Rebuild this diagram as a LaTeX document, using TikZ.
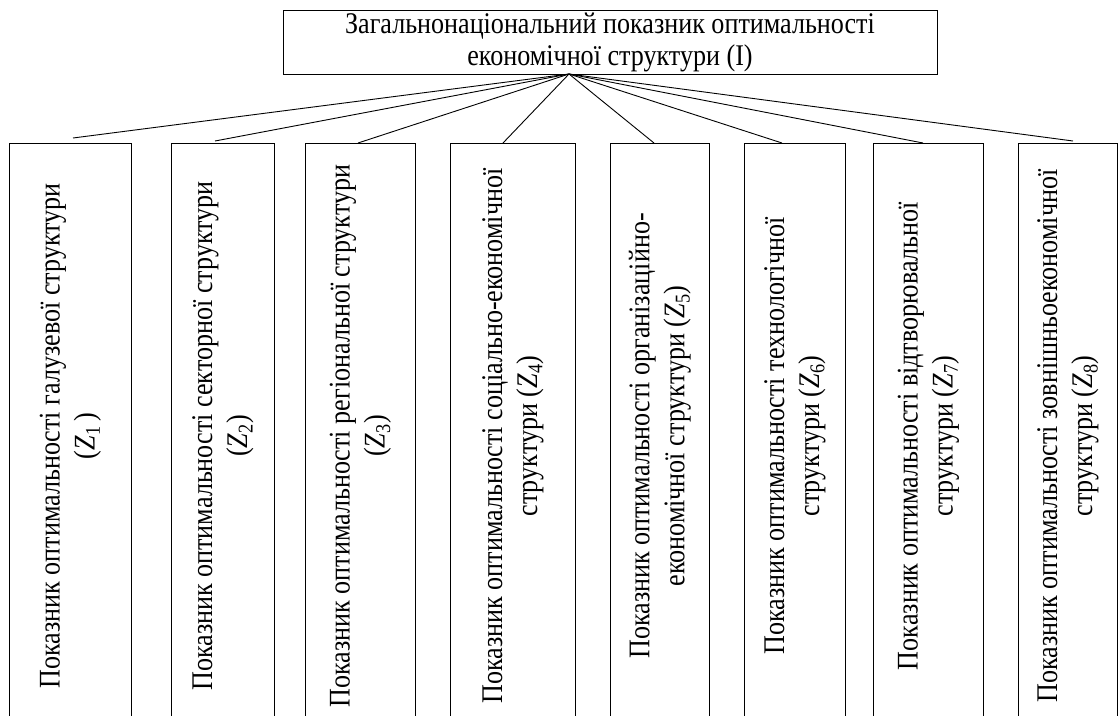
\documentclass[tikz,border=0pt]{standalone}
\usepackage{fontspec}
\setmainfont[FakeStretch=0.87]{Liberation Serif}
\newcommand{\zsub}[1]{(\textit{Z}\textsubscript{#1})}
\begin{document}
\begin{tikzpicture}[x=1pt,y=-1pt,
  box/.style={draw, line width=0.9pt, inner sep=0pt, anchor=north west},
  lbl/.style={rotate=90, align=center, font=\fontsize{30}{35}\selectfont, inner sep=0pt},
  toplbl/.style={align=center, font=\fontsize{30}{32}\selectfont, inner sep=0pt},
  conn/.style={line width=0.9pt}]
\useasboundingbox[fill=white] (0,0) rectangle (1119,715);
% top box
\node[box, minimum width=654pt, minimum height=64pt] (top) at (283,10) {};
\node[toplbl] (toptxt) at (610,42) {Загальнонаціональний показник оптимальності\\економічної структури (I)};
\coordinate (apex) at (569,74);
% child boxes
\node[box, minimum width=122pt, minimum height=585pt] (b1) at (9,143) {};
\node[box, minimum width=103pt, minimum height=585pt] (b2) at (171,143) {};
\node[box, minimum width=110pt, minimum height=585pt] (b3) at (305,143) {};
\node[box, minimum width=125pt, minimum height=585pt] (b4) at (450,143) {};
\node[box, minimum width=99pt, minimum height=585pt] (b5) at (610,143) {};
\node[box, minimum width=101pt, minimum height=585pt] (b6) at (744,143) {};
\node[box, minimum width=110pt, minimum height=585pt] (b7) at (873,143) {};
\node[box, minimum width=99pt, minimum height=585pt] (b8) at (1018,143) {};
% labels
\node[lbl] (t1) at (b1.center) {Показник оптимальності галузевої структури\\(\textit{Z}\textsubscript{1}\,)};
\node[lbl] (t2) at (b2.center) {Показник оптимальності секторної структури\\\zsub{2}};
\node[lbl] (t3) at (b3.center) {Показник оптимальності регіональної структури\\\zsub{3}};
\node[lbl] (t4) at (b4.center) {Показник оптимальності соціально-економічної\\структури \zsub{4}};
\node[lbl] (t5) at (b5.center) {Показник оптимальності організаційно-\\економічної структури \zsub{5}};
\node[lbl] (t6) at (b6.center) {Показник оптимальності технологічної\\структури \zsub{6}};
\node[lbl] (t7) at (b7.center) {Показник оптимальності відтворювальної\\структури \zsub{7}};
\node[lbl] (t8) at (b8.center) {Показник оптимальності зовнішньоекономічної\\структури \zsub{8}};
% connector ends
\coordinate (c1) at (73,138);
\coordinate (c2) at (215,141);
\coordinate (c3) at (358,143);
\coordinate (c4) at (503,143);
\coordinate (c5) at (654,143);
\coordinate (c6) at (782,143);
\coordinate (c7) at (923,143);
\coordinate (c8) at (1073,141);
\foreach \i in {1,...,8} \draw[conn] (apex) -- (c\i);
\end{tikzpicture}
\end{document}
